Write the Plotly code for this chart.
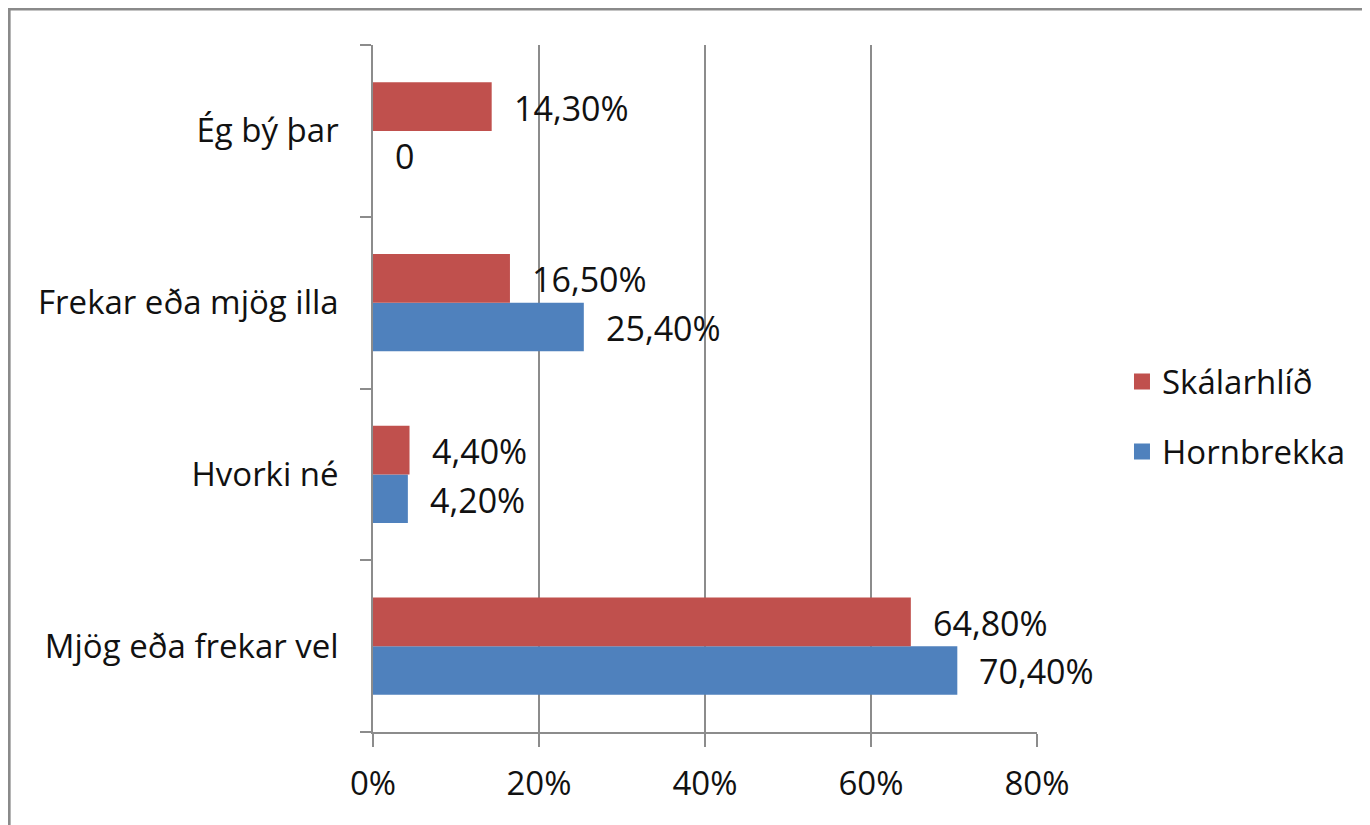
import plotly.graph_objects as go

categories = ["Mjög eða frekar vel", "Hvorki né", "Frekar eða mjög illa", "Ég bý þar"]
skalarhlid = [64.8, 4.4, 16.5, 14.3]
hornbrekka = [70.4, 4.2, 25.4, 0.0]
skalarhlid_labels = ["64,80%", "4,40%", "16,50%", "14,30%"]
hornbrekka_labels = ["70,40%", "4,20%", "25,40%", "0"]
x_ticks = [0, 20, 40, 60, 80]
x_tick_labels = ["0%", "20%", "40%", "60%", "80%"]

RED = "#C0504D"
BLUE = "#4F81BD"
GRID = "#8C8C8C"
FONT = "'Open Sans', Lato, sans-serif"
FS = 33
FS_VAL = 34
TXT = "#111111"

fig = go.Figure()
fig.add_trace(go.Bar(y=categories, x=hornbrekka, orientation="h", name="Hornbrekka",
                     marker=dict(color=BLUE, line=dict(width=0)), showlegend=False))
fig.add_trace(go.Bar(y=categories, x=skalarhlid, orientation="h", name="Skálarhlíð",
                     marker=dict(color=RED, line=dict(width=0)), showlegend=False))

# legend entries (Skálarhlíð listed first, as in the original)
fig.add_trace(go.Scatter(x=[None], y=[None], mode="markers", name="Skálarhlíð",
                         legendgroup="s", marker=dict(symbol="square", size=20, color=RED)))
fig.add_trace(go.Scatter(x=[None], y=[None], mode="markers", name="Hornbrekka",
                         legendgroup="h", marker=dict(symbol="square", size=20, color=BLUE)))

HALF = 24.3
annotations = []
for cat, val, lab in zip(categories, skalarhlid, skalarhlid_labels):
    annotations.append(dict(x=val, y=cat, text=lab, showarrow=False, xanchor="left",
                            xshift=20, yshift=HALF - 1, font=dict(family=FONT, size=FS_VAL, color=TXT)))
for cat, val, lab in zip(categories, hornbrekka, hornbrekka_labels):
    annotations.append(dict(x=val, y=cat, text=lab, showarrow=False, xanchor="left",
                            xshift=20, yshift=-HALF - 1, font=dict(family=FONT, size=FS_VAL, color=TXT)))

fig.update_layout(
    width=1370, height=825,
    margin=dict(l=365, r=341, t=37, b=101),
    paper_bgcolor="white", plot_bgcolor="white",
    barmode="group", bargap=0.435, bargroupgap=0,
    font=dict(family=FONT, size=FS, color=TXT),
    annotations=annotations,
    legend=dict(x=1.128, y=0.459, xanchor="left", yanchor="middle",
                traceorder="grouped", tracegroupgap=24,
                font=dict(family=FONT, size=FS, color=TXT), itemsizing="trace"),
    shapes=[dict(type="rect", xref="paper", yref="paper", x0=-0.548, x1=2.0,
                 y0=-1.0, y1=1.0525, line=dict(color="#8A8A8A", width=3),
                 fillcolor="rgba(0,0,0,0)", layer="below")],
)
fig.update_xaxes(range=[0, 80], tickvals=x_ticks, ticktext=x_tick_labels, showgrid=True,
                 gridcolor=GRID, gridwidth=1.5, showline=True, linecolor=GRID, linewidth=1.5,
                 ticks="outside", ticklen=13, tickcolor=GRID, tickwidth=1.5,
                 zeroline=False, ticklabelstandoff=9, fixedrange=True)
fig.update_yaxes(categoryorder="array", categoryarray=categories, showline=True,
                 linecolor=GRID, linewidth=1.5, ticks="outside", ticklen=11,
                 tickcolor=GRID, tickwidth=1.5, tickson="boundaries", showgrid=False,
                 ticklabelstandoff=26, fixedrange=True)

fig.write_html("out.html")
